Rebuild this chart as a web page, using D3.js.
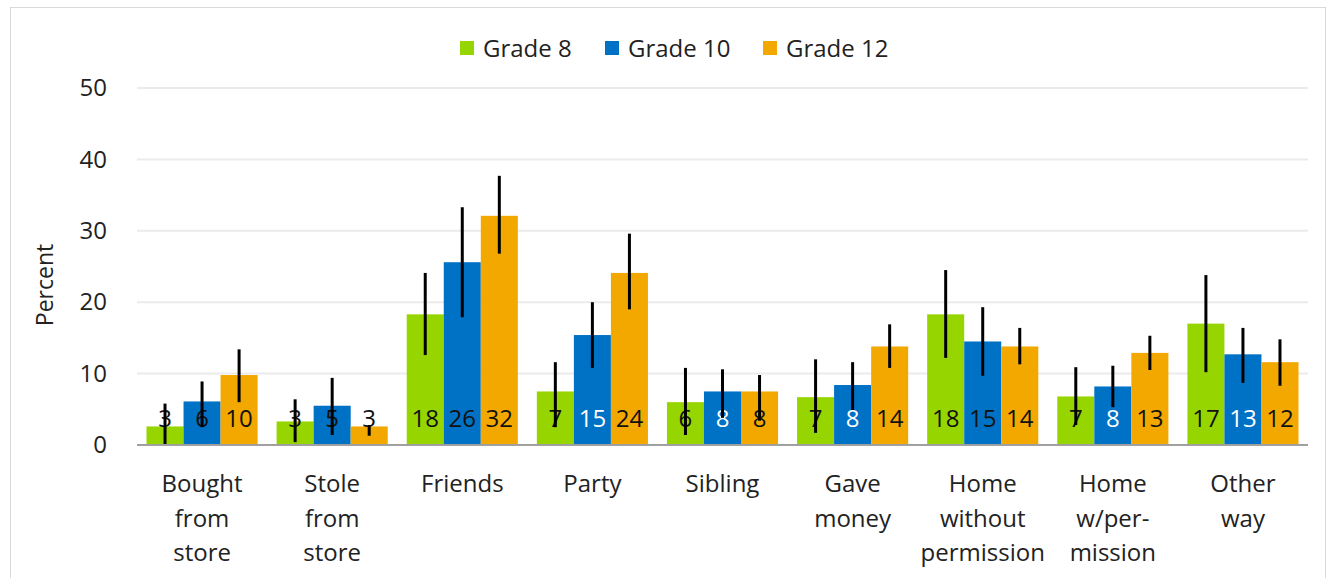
<!DOCTYPE html>
<html><head><meta charset="utf-8">
<script src="https://cdn.jsdelivr.net/npm/d3@7"></script>
<style>body{margin:0;background:#fff}svg{display:block}text{font-family:"Open Sans","Noto Sans",sans-serif}</style>
</head><body><svg id="c" width="1335" height="578"></svg>
<script>
const categories = [["Bought","from","store"],["Stole","from","store"],["Friends"],["Party"],["Sibling"],["Gave","money"],["Home","without","permission"],["Home","w/per-","mission"],["Other","way"]];
const series = ["Grade 8","Grade 10","Grade 12"];
const grade8  = [2.6, 3.3, 18.3, 7.5, 6.0, 6.7, 18.3, 6.8, 17.0];
const grade10 = [6.1, 5.5, 25.6, 15.4, 7.5, 8.4, 14.5, 8.2, 12.7];
const grade12 = [9.8, 2.6, 32.1, 24.1, 7.5, 13.8, 13.8, 12.9, 11.6];
const labels8  = ["3","3","18","7","6","7","18","7","17"];
const labels10 = ["6","5","26","15","8","8","15","8","13"];
const labels12 = ["10","3","32","24","8","14","14","13","12"];
const low8  = [0.0, 0.4, 12.6, 2.5, 1.4, 1.7, 12.2, 2.8, 10.2];
const high8 = [5.8, 6.4, 24.1, 11.6, 10.8, 12.0, 24.5, 10.9, 23.8];
const low10  = [2.5, 1.4, 17.9, 10.8, 3.8, 4.9, 9.7, 5.3, 8.7];
const high10 = [8.9, 9.4, 33.3, 20.0, 10.6, 11.6, 19.3, 11.1, 16.4];
const low12  = [6.0, 1.3, 26.8, 19.0, 3.4, 10.8, 11.3, 10.5, 8.3];
const high12 = [13.4, 2.8, 37.7, 29.6, 9.8, 16.9, 16.4, 15.3, 14.8];
const yTicks = [0,10,20,30,40,50];

const colors = ["#96d500","#0072c6","#f3a800"];
const whiteLabel = {1:[3,4,5,7,8]}; // series index -> categories with white label text

const values = [grade8, grade10, grade12];
const lbls = [labels8, labels10, labels12];
const lows = [low8, low10, low12];
const highs = [high8, high10, high12];

const svg = d3.select("#c");
svg.append("rect").attr("x",10.5).attr("y",7.5).attr("width",1315).attr("height",600)
  .attr("fill","none").attr("stroke","#d9d9d9");

const x0 = d3.scaleBand().domain(d3.range(categories.length)).range([137,1308]).paddingInner(0.146).paddingOuter(0.073);
const x1 = d3.scaleBand().domain(d3.range(series.length)).range([0,x0.bandwidth()]);
const y = d3.scaleLinear().domain([0,50]).range([445,88]);

// grid
svg.append("g").selectAll("line").data(yTicks.slice(1)).join("line")
  .attr("x1",137).attr("x2",1308).attr("y1",d=>y(d)).attr("y2",d=>y(d))
  .attr("stroke","#ebebeb").attr("stroke-width",2);

// y axis
const ya = svg.append("g").attr("transform","translate(137,0)")
  .call(d3.axisLeft(y).tickValues(yTicks).tickSize(0).tickPadding(30));
ya.select(".domain").remove();
ya.selectAll("text").attr("font-size",24).attr("fill","#222")
  .style("font-family",'"Open Sans","Noto Sans",sans-serif');

svg.append("text").attr("transform","translate(53,285) rotate(-90)")
  .attr("text-anchor","middle").attr("font-size",23).attr("fill","#222").text("Percent");

// bars
series.forEach((s,si)=>{
  const g = svg.append("g");
  g.selectAll("rect").data(values[si]).join("rect")
    .attr("x",(d,i)=>x0(i)+x1(si)).attr("width",x1.bandwidth())
    .attr("y",d=>y(d)).attr("height",d=>y(0)-y(d)).attr("fill",colors[si]);
});
// labels
series.forEach((s,si)=>{
  svg.append("g").selectAll("text").data(lbls[si]).join("text")
    .attr("x",(d,i)=>x0(i)+x1(si)+x1.bandwidth()/2).attr("y",427)
    .attr("text-anchor","middle").attr("font-size",24)
    .attr("fill",(d,i)=> (whiteLabel[si]||[]).includes(i) ? "#fff" : "#111")
    .text(d=>d);
});
// error bars
series.forEach((s,si)=>{
  svg.append("g").selectAll("line").data(values[si]).join("line")
    .attr("x1",(d,i)=>x0(i)+x1(si)+x1.bandwidth()/2).attr("x2",(d,i)=>x0(i)+x1(si)+x1.bandwidth()/2)
    .attr("y1",(d,i)=>y(lows[si][i])).attr("y2",(d,i)=>y(highs[si][i]))
    .attr("stroke","#000").attr("stroke-width",3);
});

// baseline
svg.append("line").attr("x1",137).attr("x2",1308).attr("y1",y(0)).attr("y2",y(0))
  .attr("stroke","#a0a0a0").attr("stroke-width",2);

// category labels
const cg = svg.append("g").selectAll("text").data(categories).join("text")
  .attr("text-anchor","middle").attr("font-size",24).attr("fill","#222")
  .attr("transform",(d,i)=>`translate(${x0(i)+x0.bandwidth()/2},492)`);
cg.selectAll("tspan").data(d=>d).join("tspan").attr("x",0).attr("dy",(d,j)=>j===0?0:34.5).text(d=>d);

// legend
const legX = [460,605,763];
const lg = svg.append("g").selectAll("g").data(series).join("g")
  .attr("transform",(d,i)=>`translate(${legX[i]},0)`);
lg.append("rect").attr("x",0).attr("y",41).attr("width",14).attr("height",14).attr("fill",(d,i)=>colors[i]);
lg.append("text").attr("x",23).attr("y",57).attr("font-size",24).attr("fill","#222").text(d=>d);
</script></body></html>
